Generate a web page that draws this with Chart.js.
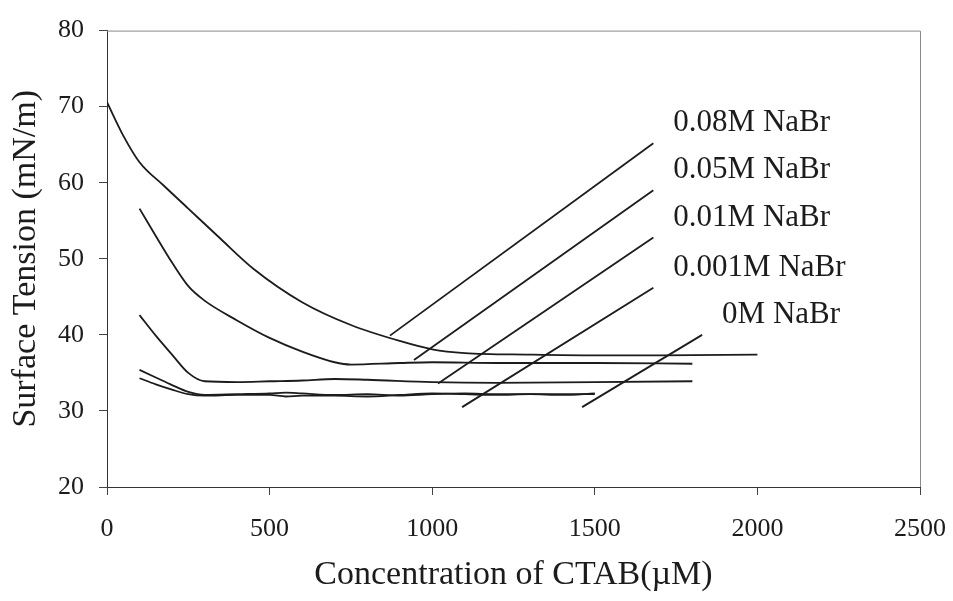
<!DOCTYPE html>
<html>
<head>
<meta charset="utf-8">
<script src="https://cdn.jsdelivr.net/npm/chart.js@4.4.1/dist/chart.umd.min.js"></script>
<style>
  html, body { margin: 0; padding: 0; background: #fff; }
  #wrap { width: 953px; height: 601px; }
</style>
</head>
<body>
<div id="wrap"><canvas id="c" width="953" height="601"></canvas></div>
<script>
// Werte (CTAB in uM, Oberflaechenspannung in mN/m)
var conc008 = [0, 50, 100, 175, 250, 350, 450, 600, 750, 900, 1000, 1100, 1300, 1500, 1700, 2000];
var st008   = [70.6, 66.2, 62.7, 59.6, 56.6, 52.6, 48.7, 44.3, 41.3, 39.2, 38.1, 37.6, 37.4, 37.3, 37.3, 37.4];

var conc005 = [100, 150, 200, 250, 300, 400, 500, 600, 700, 750, 900, 1000, 1200, 1500, 1800];
var st005   = [56.6, 53.0, 49.5, 46.4, 44.5, 41.9, 39.6, 37.8, 36.4, 36.1, 36.3, 36.4, 36.3, 36.3, 36.2];

var conc001 = [100, 150, 200, 250, 300, 400, 500, 600, 700, 800, 1000, 1200, 1500, 1800];
var st001   = [42.6, 39.9, 37.4, 35.0, 33.9, 33.8, 33.9, 34.0, 34.2, 34.1, 33.8, 33.7, 33.8, 33.9];

var conc0001 = [100, 150, 200, 250, 300, 400, 500, 550, 600, 700, 800, 900, 1000, 1100, 1200, 1300, 1400, 1500];
var st0001   = [35.4, 34.4, 33.4, 32.5, 32.1, 32.2, 32.3, 32.4, 32.3, 32.1, 32.2, 32.0, 32.2, 32.3, 32.2, 32.2, 32.2, 32.2];

var conc0 = [100, 150, 200, 250, 300, 400, 500, 550, 600, 700, 800, 900, 1000, 1100, 1200, 1300, 1400, 1500];
var st0   = [34.3, 33.5, 32.8, 32.2, 32.0, 32.1, 32.1, 31.9, 32.0, 32.0, 31.9, 32.1, 32.3, 32.2, 32.1, 32.2, 32.1, 32.3];

// Beschriftungen und ihre Zeigerlinien (unteres Ende, oberes Ende)
var labelTexts = ['0.08M NaBr', '0.05M NaBr', '0.01M NaBr', '0.001M NaBr', '0M NaBr'];
var pointerX = [[870, 1680], [944, 1680], [1018, 1680], [1092, 1680], [1461, 1830]];
var pointerY = [[39.9, 65.2], [36.7, 59.0], [33.6, 52.8], [30.5, 46.2], [30.5, 40.0]];

var xTicks = [0, 500, 1000, 1500, 2000, 2500];
var yTicks = [20, 30, 40, 50, 60, 70, 80];

var serif = "'Liberation Serif', 'Times New Roman', serif";
var ink = '#1c1c1c';

function toPoints(xs, ys) {
    return xs.map(function(x, i) { return { x: x, y: ys[i] }; });
}

var curves = [
    toPoints(conc008, st008),
    toPoints(conc005, st005),
    toPoints(conc001, st001),
    toPoints(conc0001, st0001),
    toPoints(conc0, st0)
];

var datasets = curves.map(function(pts, i) {
    return {
        label: labelTexts[i],
        data: pts,
        borderColor: ink,
        borderWidth: 1.8,
        pointRadius: 0,
        tension: 0.4,
        cubicInterpolationMode: 'monotone',
        fill: false
    };
});

pointerX.forEach(function(px, i) {
    datasets.push({
        label: 'ptr' + i,
        data: toPoints(px, pointerY[i]),
        borderColor: ink,
        borderWidth: 1.8,
        pointRadius: 0,
        tension: 0,
        fill: false
    });
});

// Rahmen oben/rechts und Texte an den Zeigerlinien
var extras = {
    id: 'extras',
    afterDatasetsDraw: function(chart) {
        var ctx = chart.ctx;
        var a = chart.chartArea;
        ctx.save();
        ctx.strokeStyle = '#8a8a8a';
        ctx.lineWidth = 1;
        ctx.beginPath();
        ctx.moveTo(a.left, a.top + 0.5);
        ctx.lineTo(a.right + 0.5, a.top + 0.5);
        ctx.lineTo(a.right + 0.5, a.bottom);
        ctx.stroke();

        ctx.fillStyle = ink;
        ctx.font = '31px ' + serif;
        ctx.textAlign = 'left';
        ctx.textBaseline = 'middle';
        for (var i = 0; i < labelTexts.length; i++) {
            var meta = chart.getDatasetMeta(5 + i);
            var top = meta.data[1];
            ctx.fillText(labelTexts[i], top.x + 20, top.y - 20);
        }
        ctx.restore();
    }
};

var ctx = document.getElementById('c').getContext('2d');
var chart = new Chart(ctx, {
    type: 'line',
    data: { datasets: datasets },
    options: {
        responsive: false,
        animation: false,
        layout: { padding: { top: 28, right: 33, left: 0, bottom: 0 } },
        plugins: {
            legend: { display: false },
            tooltip: { enabled: false }
        },
        scales: {
            x: {
                type: 'linear',
                min: 0,
                max: 2500,
                afterBuildTicks: function(scale) {
                    scale.ticks = xTicks.map(function(v) { return { value: v }; });
                },
                afterFit: function(scale) {
                    scale.height = 114;
                    scale.paddingLeft = 0;
                    scale.paddingRight = 0;
                },
                ticks: {
                    autoSkip: false,
                    maxRotation: 0,
                    padding: 19,
                    color: ink,
                    font: { family: serif, size: 26 },
                    callback: function(v) { return String(v); }
                },
                grid: { drawOnChartArea: false, tickLength: 8, color: '#444' },
                border: { color: '#333', width: 1 },
                title: {
                    display: true,
                    text: 'Concentration of CTAB(\u00b5M)',
                    color: ink,
                    font: { family: serif, size: 34, lineHeight: 1 },
                    padding: { top: 0, bottom: 9 }
                }
            },
            y: {
                min: 20,
                max: 80,
                afterBuildTicks: function(scale) {
                    scale.ticks = yTicks.map(function(v) { return { value: v }; });
                },
                afterFit: function(scale) { scale.width = 107; },
                ticks: {
                    padding: 15,
                    color: ink,
                    font: { family: serif, size: 26 },
                    callback: function(v) { return String(v); }
                },
                grid: { drawOnChartArea: false, tickLength: 8, color: '#444' },
                border: { color: '#333', width: 1 },
                title: {
                    display: true,
                    text: 'Surface Tension (mN/m)',
                    color: ink,
                    font: { family: serif, size: 34, lineHeight: 1 },
                    padding: { top: 9, bottom: 0 }
                }
            }
        }
    },
    plugins: [extras]
});
</script>
</body>
</html>
